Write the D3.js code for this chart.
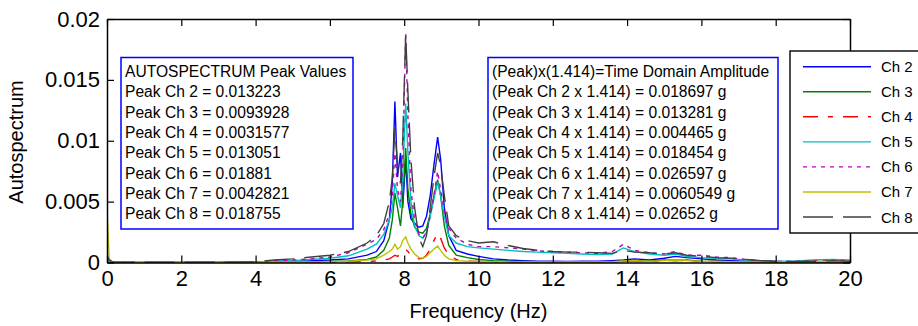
<!DOCTYPE html>
<html><head><meta charset="utf-8">
<script src="https://cdn.jsdelivr.net/npm/d3@7"></script>
<style>
body{margin:0;background:#fff}
svg{display:block;font-family:Arial,"Liberation Sans",Helvetica,sans-serif}
</style>
</head><body>
<svg id="chart" width="918" height="326"></svg>
<script>
// ---- data ----
const freq = [0,0.06,0.15,0.5,1,2,3,4,4.5,5,5.5,6,6.5,7,7.25,7.45,7.6,7.68,7.75,7.82,7.9,7.96,8.04,8.1,8.18,8.28,8.4,8.5,8.6,8.7,8.8,8.9,8.98,9.08,9.2,9.4,9.7,10,10.4,10.8,11.2,11.6,12,12.4,12.8,13.2,13.6,13.9,14.2,14.6,15,15.3,15.6,16,16.4,16.8,17.2,17.6,18,18.5,19,19.5,20];

const ch2 = [0.0002,0.0001,0.00002,0.00001,0.00001,0.00001,0.00002,0.00003,0.00008,0.0001,0.00015,0.0002,0.0003,0.0006,0.0009,0.0018,0.0035,0.0065,0.013223,0.007,0.009,0.0045,0.0085,0.005,0.0036,0.0032,0.0029,0.003,0.0038,0.0055,0.008,0.0103,0.0085,0.0045,0.0022,0.001,0.0007,0.0005,0.0003,0.0002,0.00015,0.0001,0.0001,0.00008,0.0001,0.0001,0.00015,0.0002,0.0003,0.0002,0.00035,0.0005,0.0004,0.0003,0.0002,0.00015,0.0001,0.00008,0.00005,0.00005,0.00005,0.00005,0.00005];
const ch3 = [0.0001,0.00005,0.00001,0.00001,0.00001,0.00001,0.00001,0.00001,0.00002,0.00003,0.00005,0.00008,0.00012,0.00025,0.00045,0.001,0.002,0.0035,0.0057,0.0045,0.003,0.005,0.0093928,0.006,0.004,0.0029,0.0025,0.0024,0.0028,0.004,0.0055,0.0068,0.0055,0.003,0.0014,0.0006,0.0004,0.00025,0.00015,0.0001,0.00008,0.00006,0.00005,0.00005,0.00005,0.00005,0.00005,0.0001,0.00015,0.0001,0.0002,0.00015,0.0002,0.0001,0.00008,0.00006,0.00005,0.00004,0.00003,0.00003,0.00003,0.00003,0.00003];
const ch4 = [0.0003,0.0001,0.00002,0.00001,0.00001,0.00001,0.00001,0.00001,0.00001,0.00002,0.00002,0.00003,0.00005,0.00008,0.00012,0.0002,0.0003,0.00045,0.0006,0.0005,0.0007,0.0009,0.0011,0.0009,0.0006,0.0004,0.0003,0.00035,0.0006,0.0011,0.0018,0.0024,0.002,0.0012,0.0006,0.00025,0.00012,0.00008,0.00005,0.00004,0.00003,0.00003,0.00003,0.00003,0.00003,0.00004,0.00005,0.0001,0.00015,0.0001,0.00015,0.0002,0.00015,0.0001,0.00008,0.00006,0.00004,0.00003,0.00003,0.00003,0.00003,0.00003,0.00003];
const ch5 = [0.0003,0.0001,0.00002,0.00001,0.00001,0.00001,0.00002,0.00004,0.0001,0.00015,0.00025,0.00035,0.00055,0.0011,0.0015,0.0023,0.0035,0.0045,0.0065,0.0055,0.0045,0.007,0.013051,0.009,0.005,0.003,0.0022,0.002,0.0025,0.0038,0.0052,0.0066,0.0055,0.0038,0.0022,0.0016,0.0013,0.0012,0.0011,0.001,0.0009,0.00085,0.0008,0.00075,0.0007,0.00065,0.0007,0.0012,0.0009,0.0007,0.0006,0.0007,0.0005,0.0004,0.00035,0.0003,0.0002,0.00015,0.0001,0.0001,0.0002,0.00025,0.0002];
const ch6 = [0.0006,0.0002,0.00005,0.00002,0.00001,0.00001,0.00002,0.00005,0.00015,0.0002,0.0003,0.00045,0.0008,0.0015,0.0019,0.0027,0.004,0.0055,0.009,0.006,0.005,0.008,0.01881,0.012,0.006,0.0035,0.0023,0.002,0.0025,0.0038,0.0055,0.0075,0.006,0.0042,0.0028,0.002,0.0015,0.0013,0.0013,0.0012,0.0011,0.00095,0.0009,0.00085,0.0008,0.00075,0.0009,0.0015,0.001,0.0008,0.0007,0.0009,0.0006,0.0006,0.00045,0.0004,0.00025,0.00015,0.0001,0.00008,0.00015,0.0002,0.00015];
const ch7 = [0.0042821,0.0003,0.00005,0.00002,0.00002,0.00002,0.00002,0.00002,0.00003,0.00004,0.00005,0.00007,0.0001,0.0002,0.0003,0.0006,0.0009,0.0011,0.0015,0.0011,0.0013,0.0018,0.0021,0.0016,0.0011,0.0007,0.0004,0.00035,0.0005,0.0008,0.0011,0.00135,0.001,0.0006,0.0003,0.00015,0.0001,0.00008,0.00006,0.00005,0.00005,0.00005,0.00005,0.00005,0.00005,0.00005,0.00006,0.00012,0.00015,0.0001,0.00015,0.0002,0.00015,0.0001,0.00008,0.00006,0.00005,0.00005,0.00005,0.00005,0.00008,0.0001,0.00008];
const ch8 = [0.0005,0.0002,0.00005,0.00002,0.00002,0.00002,0.00003,0.00005,0.0002,0.0003,0.00045,0.0006,0.0009,0.0016,0.0022,0.0032,0.005,0.007,0.011,0.008,0.0065,0.01,0.018755,0.014,0.0085,0.0045,0.002,0.0013,0.0022,0.0045,0.007,0.009,0.008,0.0055,0.003,0.0022,0.0018,0.0016,0.0017,0.0014,0.00115,0.001,0.0009,0.00085,0.00085,0.0008,0.00075,0.001,0.00085,0.0008,0.0007,0.0008,0.0006,0.0005,0.0004,0.00035,0.00025,0.00015,0.0001,0.00008,0.0001,0.00015,0.0001];

const channelNames = ["Ch 2","Ch 3","Ch 4","Ch 5","Ch 6","Ch 7","Ch 8"];
const peakLines = ["AUTOSPECTRUM Peak Values","Peak Ch 2 = 0.013223","Peak Ch 3 = 0.0093928","Peak Ch 4 = 0.0031577","Peak Ch 5 = 0.013051","Peak Ch 6 = 0.01881","Peak Ch 7 = 0.0042821","Peak Ch 8 = 0.018755"];
const ampLines = ["(Peak)x(1.414)=Time Domain Amplitude","(Peak Ch 2 x 1.414) = 0.018697 g","(Peak Ch 3 x 1.414) = 0.013281 g","(Peak Ch 4 x 1.414) = 0.004465 g","(Peak Ch 5 x 1.414) = 0.018454 g","(Peak Ch 6 x 1.414) = 0.026597 g","(Peak Ch 7 x 1.414) = 0.0060549 g","(Peak Ch 8 x 1.414) = 0.02652 g"];
const xTicks = [0,2,4,6,8,10,12,14,16,18,20];
const yTicks = [0,0.005,0.01,0.015,0.02];
const yTickLabels = ["0","0.005","0.01","0.015","0.02"];

// ---- styles ----
const series = [ch2,ch3,ch4,ch5,ch6,ch7,ch8];
const colors = ["#0000ff","#008000","#ff0000","#00bfbf","#bf00bf","#bfbf00","#404040"];
const dashes = [null,null,"15,10,5,10",null,"4,5",null,"30,10"];

const svg = d3.select("#chart");
const L = 107, R = 850, T = 19, B = 262.5;
const x = d3.scaleLinear().domain([0,20]).range([L,R]);
const y = d3.scaleLinear().domain([0,0.02]).range([B,T]);

svg.append("defs").append("clipPath").attr("id","clip")
  .append("rect").attr("x",L).attr("y",T).attr("width",R-L).attr("height",B-T+1);

const line = d3.line().x((d,i)=>x(freq[i])).y(d=>y(d));
const lg = svg.append("g").attr("clip-path","url(#clip)");
series.forEach((s,i)=>{
  lg.append("path").datum(s).attr("d",line)
    .attr("fill","none").attr("stroke",colors[i]).attr("stroke-width",1.4)
    .attr("stroke-dasharray",dashes[i]);
});

// ---- axes ----
const tickFont = "22px";
const gx = svg.append("g").attr("transform",`translate(0,${B})`)
  .call(d3.axisBottom(x).tickValues(xTicks).tickFormat(d3.format("d")).tickSizeInner(-7).tickSizeOuter(0).tickPadding(10));
const gxt = svg.append("g").attr("transform",`translate(0,${T})`)
  .call(d3.axisTop(x).tickValues(xTicks).tickFormat("").tickSizeInner(-7).tickSizeOuter(0));
const gy = svg.append("g").attr("transform",`translate(${L},0)`)
  .call(d3.axisLeft(y).tickValues(yTicks).tickFormat((d,i)=>yTickLabels[i]).tickSizeInner(-7).tickSizeOuter(0).tickPadding(7));
const gyr = svg.append("g").attr("transform",`translate(${R},0)`)
  .call(d3.axisRight(y).tickValues(yTicks).tickFormat("").tickSizeInner(-7).tickSizeOuter(0));
[gx,gxt,gy,gyr].forEach(g=>{
  g.selectAll(".domain").attr("stroke","#000").attr("stroke-width",1.5);
  g.selectAll(".tick line").attr("stroke","#000").attr("stroke-width",1.2);
  g.selectAll("text").attr("fill","#000").style("font-size",tickFont).style("font-family","Arial,'Liberation Sans',sans-serif");
});
gx.selectAll(".tick text").attr("dy","0.6em");

svg.append("text").attr("x",(L+R)/2).attr("y",318).attr("text-anchor","middle")
  .style("font-size","20px").text("Frequency (Hz)");
svg.append("text").attr("transform","translate(23,142) rotate(-90)").attr("text-anchor","middle")
  .style("font-size","20px").text("Autospectrum");

// ---- annotation boxes ----
function textBox(x0,y0,w,h,lines){
  const g = svg.append("g");
  g.append("rect").attr("x",x0).attr("y",y0).attr("width",w).attr("height",h)
    .attr("fill","#fff").attr("stroke","#0000ff").attr("stroke-width",1.5);
  g.selectAll("text").data(lines).join("text")
    .attr("x",x0+4).attr("y",(d,i)=>y0+19.5+i*20.3)
    .style("font-size","15.6px").attr("fill","#000").text(d=>d);
}
textBox(121,57.5,232,171.5,peakLines);
textBox(488,57.5,290,171.5,ampLines);

// ---- legend ----
const leg = svg.append("g");
leg.append("rect").attr("x",790).attr("y",51).attr("width",150).attr("height",182)
  .attr("fill","#fff").attr("stroke","#000").attr("stroke-width",1.4);
channelNames.forEach((n,i)=>{
  const yy = 66.7 + i*25.05;
  leg.append("line").attr("x1",803).attr("x2",871).attr("y1",yy).attr("y2",yy)
    .attr("stroke",colors[i]).attr("stroke-width",1.4).attr("stroke-dasharray",dashes[i]);
  leg.append("text").attr("x",881).attr("y",yy+5.5).style("font-size","15px").text(n);
});
</script>
</body></html>
